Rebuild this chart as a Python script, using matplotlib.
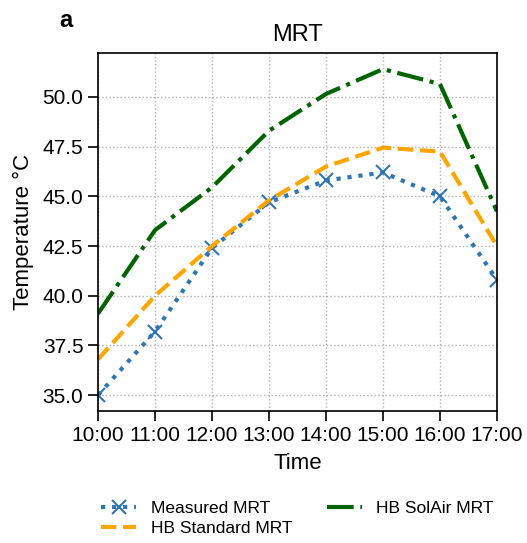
import matplotlib.pyplot as plt

plt.rcParams['font.family'] = ['Liberation Sans', 'DejaVu Sans']

times = ["10:00", "11:00", "12:00", "13:00", "14:00", "15:00", "16:00", "17:00"]
measured = [35.0, 38.2, 42.4, 44.7, 45.8, 46.2, 45.0, 40.8]
hb_standard = [36.8, 40.0, 42.5, 44.8, 46.5, 47.45, 47.25, 42.5]
hb_solair = [39.1, 43.3, 45.45, 48.3, 50.15, 51.4, 50.65, 44.25]

x = list(range(len(times)))

fig = plt.figure(figsize=(5.27, 5.43), dpi=100)
ax = fig.add_axes([0.186, 0.243, 0.757, 0.659])

ax.plot(x, measured, linestyle=':', color="#2e75b6", marker='x', markersize=10,
        markeredgewidth=1.5, linewidth=3, label="Measured MRT")
ax.plot(x, hb_standard, linestyle='--', color="orange", linewidth=3, label="HB Standard MRT")
ax.plot(x, hb_solair, linestyle='-.', color="darkgreen", linewidth=3, label="HB SolAir MRT")

ax.set_xlim(x[0], x[-1])
ax.set_ylim(34.2, 52.2)
ax.set_xticks(x)
ax.set_xticklabels(times)
ax.set_yticks([35.0, 37.5, 40.0, 42.5, 45.0, 47.5, 50.0])
ax.tick_params(labelsize=15, length=7, width=1.2)
ax.grid(True, linestyle=':', color="#b0b0b0", linewidth=1)
ax.set_xlabel("Time", fontsize=16, labelpad=6)
ax.set_ylabel("Temperature °C", fontsize=16, labelpad=6)
ax.set_title("MRT", fontsize=17, pad=9)
for s in ax.spines.values():
    s.set_linewidth(1.2)

fig.text(0.113, 0.963, "a", fontsize=17, fontweight='bold', ha='left', va='center')

ax.legend(loc='upper center', bbox_to_anchor=(0.5, -0.207), ncol=2, frameon=False,
          fontsize=12.5, handlelength=2.0, handletextpad=0.85, columnspacing=2.0,
          labelspacing=0.3)

plt.savefig("out.png", dpi=100)
